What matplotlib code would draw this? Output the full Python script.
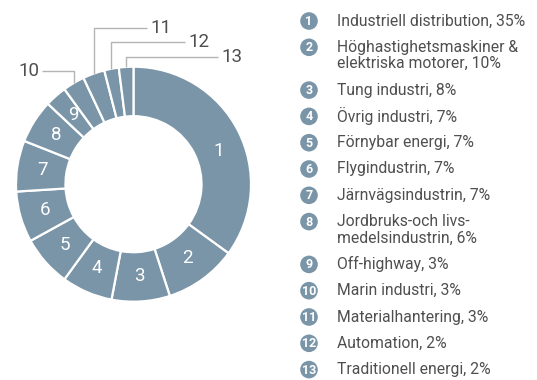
import numpy as np
import matplotlib
matplotlib.use("Agg")
import matplotlib.pyplot as plt

plt.rcParams["font.family"] = ["Roboto", "DejaVu Sans"]

# Market segments, share in percent
segments = [
    "Industriell distribution",
    "Höghastighetsmaskiner &\nelektriska motorer",
    "Tung industri",
    "Övrig industri",
    "Förnybar energi",
    "Flygindustrin",
    "Järnvägsindustrin",
    "Jordbruks-och livs-\nmedelsindustrin",
    "Off-highway",
    "Marin industri",
    "Materialhantering",
    "Automation",
    "Traditionell energi",
]
shares = [35, 10, 8, 7, 7, 7, 7, 6, 3, 3, 3, 2, 2]
numbers = [str(i + 1) for i in range(len(shares))]

blue = "#7a95a8"
grey_text = "#4f4f4f"
grey_line = "#b4b4b4"

W, H = 537, 380
fig = plt.figure(figsize=(W / 100, H / 100), dpi=100)

# donut geometry in pixels
cx, cy, R = 133.5, 184.2, 117.5
ax = fig.add_axes([(cx - R) / W, (H - cy - R) / H, 2 * R / W, 2 * R / H])
wedges, _ = ax.pie(shares, startangle=90, counterclock=False, colors=[blue] * len(shares),
                   radius=1.0, wedgeprops=dict(width=0.421, edgecolor="white", linewidth=1.6))
ax.set_xlim(-1, 1)
ax.set_ylim(-1, 1)
ax.set_aspect("equal")
ax.axis("off")


def py_to_y(py):
    return (cy - py) / R


def px_to_x(px):
    return (px - cx) / R


# numbers inside the ring for the larger slices
for i, (w, num) in enumerate(zip(wedges[:9], numbers[:9])):
    mid = (w.theta1 + w.theta2) / 2
    if i == 0:
        mid -= 6  # the wide first slice carries its number a bit lower
    mid = np.deg2rad(mid)
    r = 0.78
    ax.text(r * np.cos(mid), r * np.sin(mid), num, color="white", fontsize=13.5,
            ha="center", va="center")

# leader lines for the small slices: (elbow y, end x, text side)
leaders = {9: (71, 42, "left"), 10: (28, 147, "right"), 11: (42, 185, "right"), 12: (57, 218, "right")}
for i, (ey, ex, side) in leaders.items():
    w = wedges[i]
    mid = np.deg2rad((w.theta1 + w.theta2) / 2)
    x0, y0 = np.cos(mid), np.sin(mid)
    ye, xe = py_to_y(ey), px_to_x(ex)
    ax.plot([x0, x0, xe], [y0, ye, ye], color=grey_line, lw=1.0, clip_on=False,
            solid_capstyle="butt")
    if side == "left":
        ax.text(xe - 3 / R, ye, numbers[i], color=grey_text, fontsize=13.5,
                ha="right", va="center")
    else:
        ax.text(xe + 3 / R, ye, numbers[i], color=grey_text, fontsize=13.5,
                ha="left", va="center")

# legend on the right, drawn in pixel coordinates
lg = fig.add_axes([0, 0, 1, 1])
lg.set_xlim(0, W)
lg.set_ylim(H, 0)
lg.axis("off")

y = 21
for num, name, val in zip(numbers, segments, shares):
    lg.add_patch(plt.Circle((309, y), 8.8, color=blue, lw=0))
    lg.text(309, y + 0.5, num, color="white", fontsize=9, fontweight="bold",
            ha="center", va="center")
    lines = f"{name}, {val}%".split("\n")
    for k, line in enumerate(lines):
        lg.text(337, y + k * 16.5, line, color=grey_text, fontsize=11.3,
                ha="left", va="center")
    y += 26.3 + 16.5 * (len(lines) - 1)

fig.savefig("out.png", dpi=100)
